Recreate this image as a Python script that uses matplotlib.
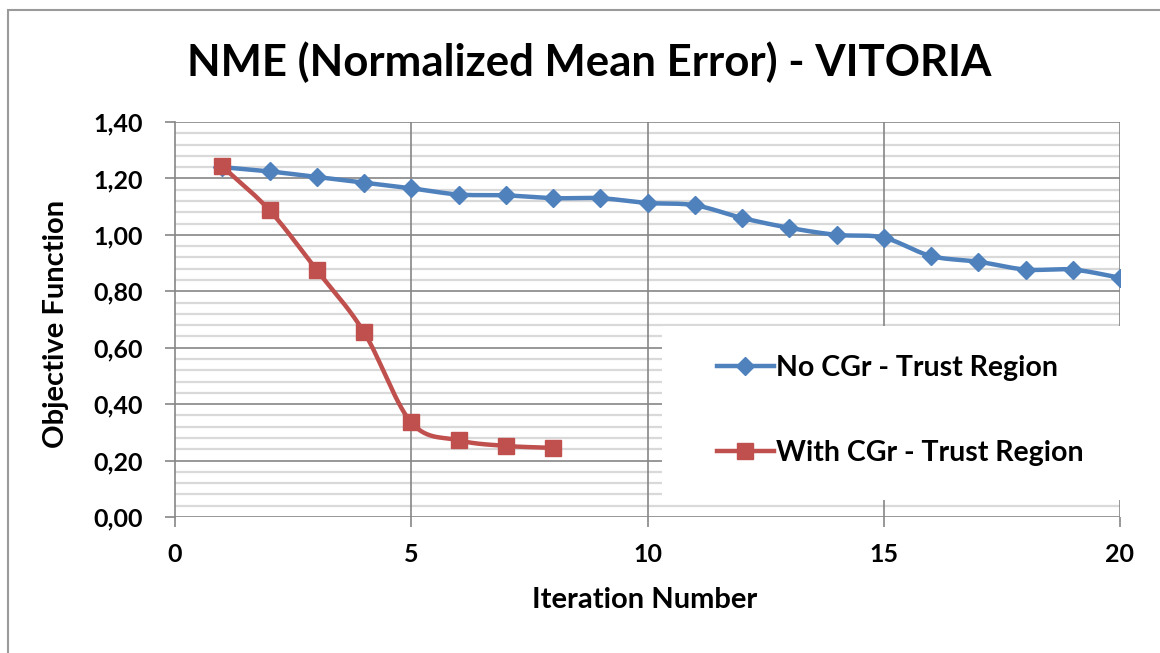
import numpy as np
import matplotlib.pyplot as plt
from matplotlib.patches import Rectangle
from matplotlib.lines import Line2D

iterations_no = list(range(1, 21))
no_cgr = [1.24, 1.225, 1.205, 1.185, 1.165, 1.143, 1.14, 1.13, 1.13, 1.113,
          1.105, 1.06, 1.025, 1.0, 0.99, 0.925, 0.905, 0.877, 0.877, 0.848]
iterations_with = list(range(1, 9))
with_cgr = [1.243, 1.087, 0.875, 0.655, 0.335, 0.272, 0.252, 0.245]

blue = '#4F81BD'
red = '#C0504D'
font = 'Lato'


def smooth(x, y, n=30):
    # Catmull-Rom style smoothing, similar to Excel "smoothed line"
    x = np.asarray(x, float)
    y = np.asarray(y, float)
    px = np.concatenate([[2 * x[0] - x[1]], x, [2 * x[-1] - x[-2]]])
    py = np.concatenate([[2 * y[0] - y[1]], y, [2 * y[-1] - y[-2]]])
    xs, ys = [], []
    t = np.linspace(0, 1, n)
    for i in range(1, len(px) - 2):
        p0, p1, p2, p3 = [np.array([px[j], py[j]]) for j in range(i - 1, i + 3)]
        b1 = p1 + (p2 - p0) / 6
        b2 = p2 - (p3 - p1) / 6
        pts = ((1 - t) ** 3)[:, None] * p1 + (3 * (1 - t) ** 2 * t)[:, None] * b1 \
            + (3 * (1 - t) * t ** 2)[:, None] * b2 + (t ** 3)[:, None] * p2
        xs.extend(pts[:, 0])
        ys.extend(pts[:, 1])
    return xs, ys


fig = plt.figure(figsize=(11.6, 6.53), dpi=100)
ax = fig.add_axes([175 / 1160, 1 - 517 / 653, (1120 - 175) / 1160, (517 - 122) / 653])

ax.set_xlim(0, 20)
ax.set_ylim(0, 1.4)
ax.set_xticks([0, 5, 10, 15, 20])
yt = np.arange(0, 1.41, 0.2)
ax.set_yticks(yt)
ax.set_yticks(np.arange(0, 1.41, 0.04), minor=True)
ax.set_yticklabels([('%.2f' % v).replace('.', ',') for v in yt])
ax.grid(True, which='minor', axis='y', color='#D9D9D9', linewidth=1.6)
for v in ax.get_xticks()[1:]:
    ax.axvline(v, color='#868686', linewidth=1.2, zorder=2)
for v in yt:
    ax.axhline(v, color='#868686', linewidth=1.2, zorder=2)
ax.tick_params(axis='both', which='major', length=7, width=1.2, color='#868686',
               labelsize=18)
ax.tick_params(axis='y', which='major', pad=16)
ax.tick_params(axis='x', which='major', pad=12)
ax.tick_params(axis='y', which='minor', length=0)
for lab in ax.get_xticklabels() + ax.get_yticklabels():
    lab.set_fontweight('bold')
    lab.set_family(font)
for s in ['top', 'right', 'bottom']:
    ax.spines[s].set_visible(False)
ax.spines['left'].set_color('#868686')
ax.spines['left'].set_linewidth(1.2)

sx, sy = smooth(iterations_no, no_cgr)
ax.plot(sx, sy, color=blue, linewidth=3.2, zorder=3, solid_capstyle='round')
ax.plot(iterations_no, no_cgr, linestyle='none', marker='D', markersize=9,
        color=blue, zorder=4)
sx, sy = smooth(iterations_with, with_cgr)
ax.plot(sx, sy, color=red, linewidth=3.2, zorder=3, solid_capstyle='round')
ax.plot(iterations_with, with_cgr, linestyle='none', marker='s', markersize=12,
        color=red, zorder=4)

ax.set_xlabel('Iteration Number', fontsize=21, fontweight='bold', family=font)
ax.set_ylabel('Objective Function', fontsize=21, fontweight='bold', family=font)
ax.xaxis.set_label_coords(0.497, -0.178)
ax.yaxis.set_label_coords(-0.112, 0.49)

# legend: white box over the grid
ax.add_patch(Rectangle((662 / 1160, 1 - 500 / 653), (1125 - 662) / 1160, (500 - 326) / 653,
                       transform=fig.transFigure, facecolor='white', edgecolor='none',
                       zorder=5))
handles = [Line2D([], [], color=blue, linewidth=3.2, marker='D', markersize=9),
           Line2D([], [], color=red, linewidth=3.2, marker='s', markersize=12)]
leg = fig.legend(handles, ['No CGr - Trust Region', 'With CGr - Trust Region'],
                 loc='upper left', bbox_to_anchor=(691 / 1160, 1 - 329 / 653),
                 frameon=False, handlelength=2.0, handletextpad=0.1,
                 labelspacing=2.1, prop={'family': font, 'weight': 'bold', 'size': 20.5})
leg.set_zorder(6)

fig.suptitle('NME (Normalized Mean Error) - VITORIA', x=589 / 1160, y=1 - 62 / 653,
             va='center', fontsize=31.5, fontweight='bold', family=font)

fig.add_artist(Rectangle((8 / 1160, -0.05), 1.1, 1 - 10 / 653 + 0.05,
                         transform=fig.transFigure, facecolor='none',
                         edgecolor='#9A9A9A', linewidth=1.5))

fig.savefig('out.png', dpi=100)
